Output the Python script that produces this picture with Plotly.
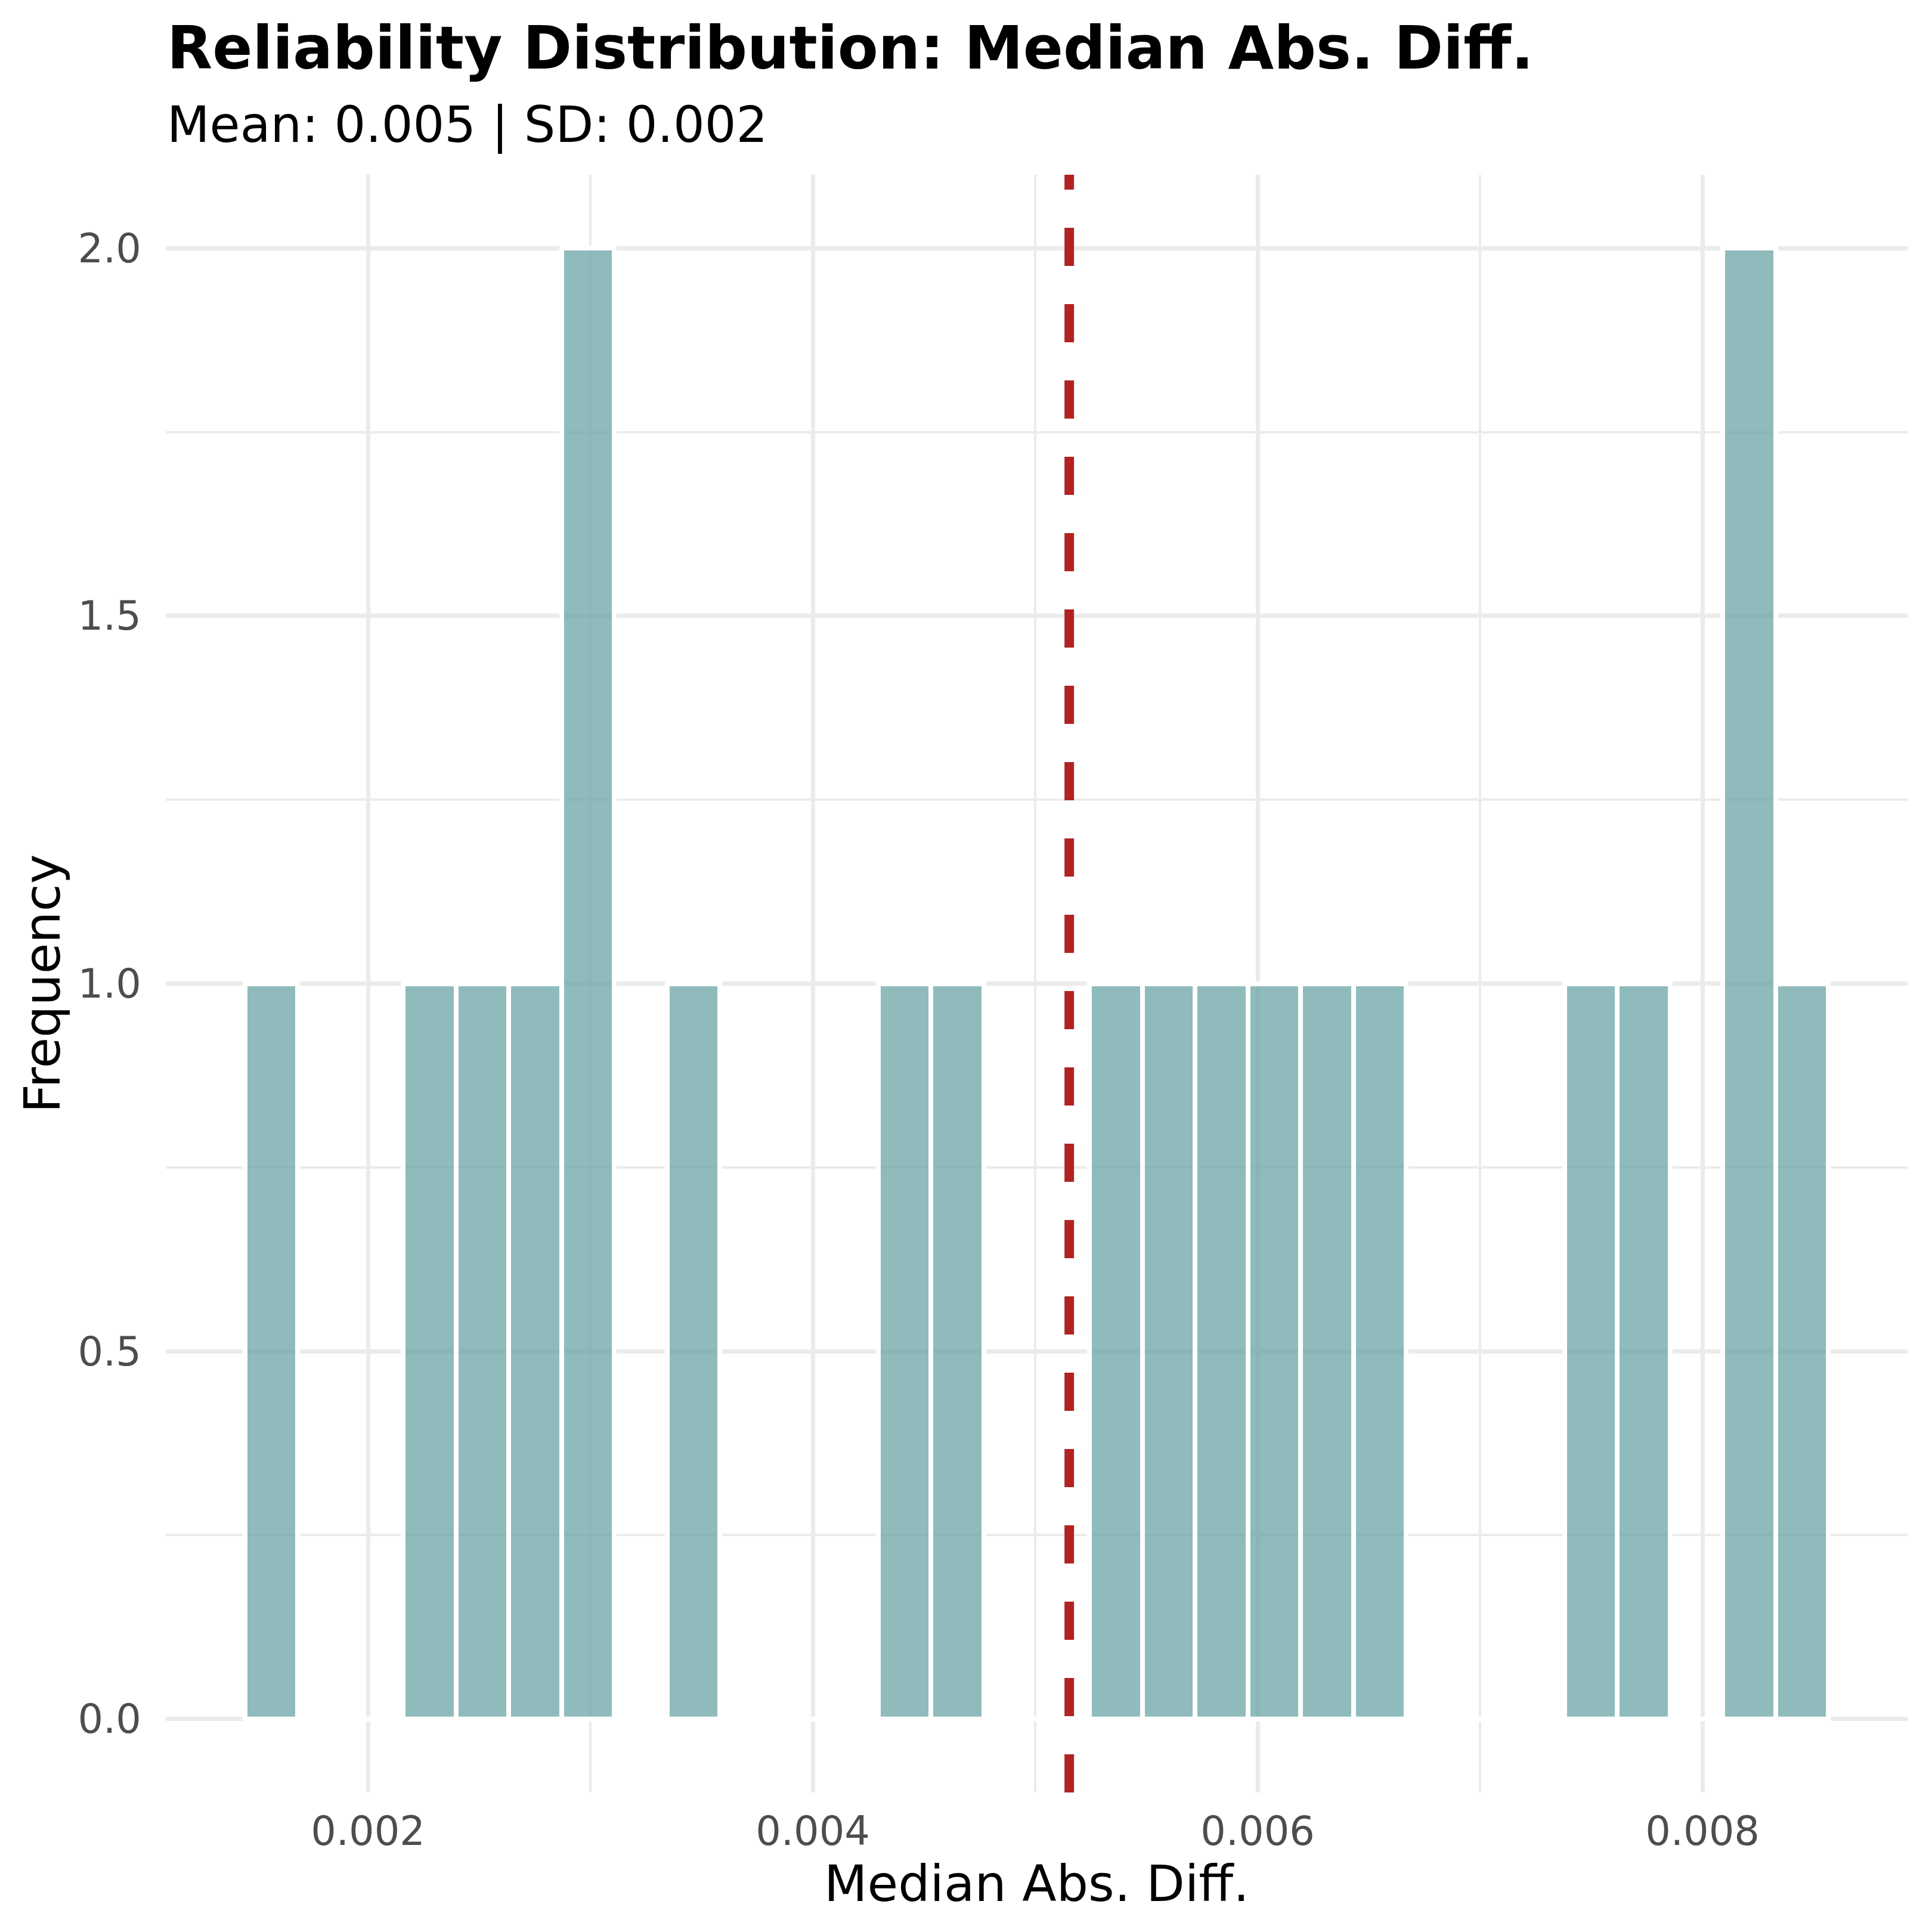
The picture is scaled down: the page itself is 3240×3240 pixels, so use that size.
import plotly.graph_objects as go

# histogram bins (30 bins)
bin_centers = [0.0015657, 0.0018030, 0.0020403, 0.0022776, 0.0025149, 0.0027522,
               0.0029895, 0.0032268, 0.0034641, 0.0037014, 0.0039387, 0.0041760,
               0.0044133, 0.0046506, 0.0048879, 0.0051252, 0.0053625, 0.0055998,
               0.0058371, 0.0060744, 0.0063117, 0.0065490, 0.0067863, 0.0070236,
               0.0072609, 0.0074982, 0.0077355, 0.0079728, 0.0082101, 0.0084474]
counts = [1, 0, 0, 1, 1, 1, 2, 0, 1, 0,
          0, 0, 1, 1, 0, 0, 1, 1, 1, 1,
          1, 1, 0, 0, 0, 1, 1, 0, 2, 1]
bin_width = 0.0002373
mean_value = 0.005153
sd_value = 0.002

x_ticks = [0.002, 0.004, 0.006, 0.008]
y_ticks = [0.0, 0.5, 1.0, 1.5, 2.0]

fill = 'rgba(95,158,160,0.7)'
red = '#B22222'
grid = '#EBEBEB'
font = 'DejaVu Sans'

fig = go.Figure()
fig.add_trace(go.Bar(x=bin_centers, y=counts, width=bin_width,
                     marker=dict(color=fill, line=dict(color='white', width=8)),
                     showlegend=False))
# empty bins still get a white outline along zero, like ggplot
fig.add_trace(go.Scatter(x=[bin_centers[0] - bin_width / 2, bin_centers[-1] + bin_width / 2],
                         y=[0, 0], mode='lines', line=dict(color='white', width=8),
                         showlegend=False, hoverinfo='skip'))
fig.add_vline(x=mean_value, line=dict(color=red, width=16, dash='64px,64px'))

fig.add_annotation(text='<b>Reliability Distribution: Median Abs. Diff.</b>',
                   xref='paper', yref='paper', x=0, y=1.0783, xanchor='left', yanchor='middle',
                   showarrow=False, font=dict(family=font, size=99, color='black'))
fig.add_annotation(text='Mean: {:.3f} | SD: {:.3f}'.format(mean_value, sd_value),
                   xref='paper', yref='paper', x=0, y=1.0306, xanchor='left', yanchor='middle',
                   showarrow=False, font=dict(family=font, size=83, color='black'))

fig.update_layout(
    width=3240, height=3240,
    margin=dict(l=278, r=41, t=293, b=234),
    plot_bgcolor='white', paper_bgcolor='white',
    font=dict(family=font, color='black'),
    bargap=0,
)
fig.update_xaxes(range=[0.001091, 0.008922], tickvals=x_ticks, tickformat='.3f',
                 showgrid=True, gridcolor=grid, gridwidth=7.3, zeroline=False,
                 showline=False, ticks='', ticklabelstandoff=20,
                 tickfont=dict(family=font, size=67, color='#4D4D4D'),
                 minor=dict(tickvals=[0.001, 0.003, 0.005, 0.007], showgrid=True,
                            gridcolor=grid, gridwidth=3.6),
                 title=dict(text='Median Abs. Diff.', standoff=20,
                            font=dict(family=font, size=84, color='black')))
fig.update_yaxes(range=[-0.1, 2.1], tickvals=y_ticks, tickformat='.1f',
                 showgrid=True, gridcolor=grid, gridwidth=7.3, zeroline=False,
                 showline=False, ticks='', ticklabelstandoff=40,
                 tickfont=dict(family=font, size=67, color='#4D4D4D'),
                 minor=dict(tickvals=[0.25, 0.75, 1.25, 1.75], showgrid=True,
                            gridcolor=grid, gridwidth=3.6),
                 title=dict(text='Frequency', standoff=2,
                            font=dict(family=font, size=84, color='black')))

fig.write_html("out.html", config={'displayModeBar': False},
               post_script="document.body.style.margin='0';")
